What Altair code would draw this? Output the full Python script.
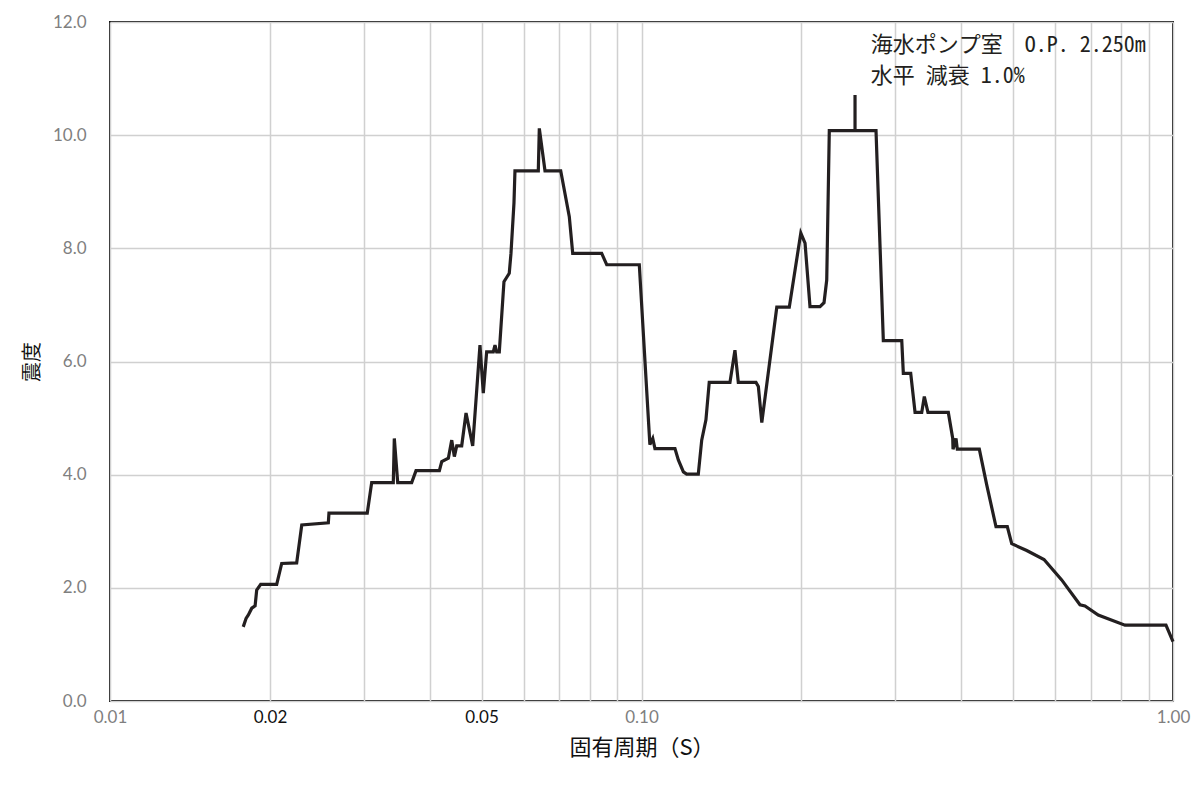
import altair as alt
import pandas as pd

# ---- data ----
periods = [
    0.01781, 0.01803, 0.01821, 0.01848, 0.01875, 0.01888, 0.01921, 0.02059, 0.02104, 0.02245,
    0.02295, 0.02575, 0.02582, 0.03048, 0.03107, 0.03412, 0.03427, 0.03478, 0.03695, 0.03765,
    0.04166, 0.04209, 0.04331, 0.04395, 0.04445, 0.04491, 0.04589, 0.04676, 0.04813, 0.04967,
    0.05039, 0.05113, 0.05262, 0.05301, 0.05340, 0.05401, 0.05511, 0.05639, 0.05681, 0.05755,
    0.05780, 0.06395, 0.06423, 0.06583, 0.07047, 0.07314, 0.07423, 0.08416, 0.08601, 0.09905,
    0.1037, 0.1050, 0.1060, 0.1156, 0.1173, 0.1199, 0.1216, 0.1279, 0.1298, 0.1322,
    0.1341, 0.1467, 0.1499, 0.1521, 0.1642, 0.1659, 0.1684, 0.1797, 0.1897, 0.1994,
    0.2031, 0.2075, 0.2167, 0.2205, 0.2231, 0.2256, 0.2522, 0.2522, 0.2522, 0.2762,
    0.2851, 0.3088, 0.3109, 0.3210, 0.3271, 0.3367, 0.3405, 0.3459, 0.3778, 0.3851,
    0.3856, 0.3906, 0.3928, 0.4321, 0.4462, 0.4645, 0.4878, 0.4972, 0.5306, 0.5719,
    0.6174, 0.6683, 0.6830, 0.7233, 0.8122, 0.9700, 1.0,
]
shindo = [
    1.31, 1.46, 1.52, 1.64, 1.68, 1.96, 2.06, 2.06, 2.43, 2.44,
    3.11, 3.15, 3.32, 3.32, 3.86, 3.86, 4.64, 3.86, 3.86, 4.07,
    4.07, 4.23, 4.29, 4.61, 4.32, 4.51, 4.51, 5.09, 4.51, 6.29,
    5.44, 6.17, 6.17, 6.29, 6.17, 6.17, 7.41, 7.56, 7.91, 8.80,
    9.37, 9.37, 10.12, 9.37, 9.37, 8.56, 7.91, 7.91, 7.71, 7.71,
    4.53, 4.64, 4.46, 4.46, 4.26, 4.05, 4.01, 4.01, 4.61, 4.97,
    5.63, 5.63, 6.20, 5.63, 5.63, 5.56, 4.92, 6.96, 6.96, 8.27,
    8.09, 6.97, 6.97, 7.04, 7.44, 10.08, 10.08, 10.71, 10.08, 10.08,
    6.37, 6.37, 5.79, 5.79, 5.10, 5.10, 5.38, 5.10, 5.10, 4.64,
    4.45, 4.64, 4.45, 4.45, 3.82, 3.08, 3.08, 2.78, 2.66, 2.50,
    2.14, 1.70, 1.68, 1.52, 1.34, 1.34, 1.05,
]

x_grid_values = [0.01, 0.02, 0.03, 0.04, 0.05, 0.06, 0.07, 0.08, 0.09,
                 0.1, 0.2, 0.3, 0.4, 0.5, 0.6, 0.7, 0.8, 0.9, 1.0]
x_labelled = [0.01, 0.02, 0.05, 0.1, 1.0]
x_dark_labels = [0.02, 0.05]
y_tick_values = [0, 2, 4, 6, 8, 10, 12]

note_lines = ["海水ポンプ室　O.P. 2.250m", "水平 減衰 1.0%"]
note_x = [0.2700, 0.2700]
note_y = [11.6, 11.05]

x_title = "固有周期（S）"
y_title = "震度"

# ---- build ----
df = pd.DataFrame({"period": periods, "shindo": shindo, "i": range(len(periods))})
notes = pd.DataFrame({"text": note_lines, "x": note_x, "y": note_y})

label_test = " || ".join(f"datum.value == {v}" for v in x_labelled)
dark_test = " || ".join(f"datum.value == {v}" for v in x_dark_labels)

x_scale = alt.Scale(type="log", domain=[0.01, 1.0], nice=False)
y_scale = alt.Scale(domain=[0, 12], nice=False)

x_axis = alt.Axis(
    values=x_grid_values,
    labelExpr=f"({label_test}) ? format(datum.value, '.2f') : ''",
    labelColor=alt.condition(dark_test, alt.value("#111111"), alt.value("#7f7f7f")),
    grid=True, gridColor="#d0d0d0", gridWidth=1.5,
    ticks=False, domain=False,
    labelFont="Lato", labelFontSize=17, labelPadding=8,
    labelFlush=False, labelOverlap=False,
    title=x_title, titleFont="Noto Sans CJK JP", titleFontSize=22,
    titleFontWeight="normal", titleColor="#111111", titlePadding=12,
)
y_axis = alt.Axis(
    values=y_tick_values, format=".1f",
    grid=True, gridColor="#d0d0d0", gridWidth=1.5,
    ticks=False, domain=False,
    labelFont="Lato", labelFontSize=17, labelColor="#7f7f7f", labelPadding=24,
    title=y_title, titleFont="Noto Sans CJK JP", titleFontSize=20,
    titleFontWeight="normal", titleColor="#111111", titlePadding=10,
)

line = alt.Chart(df).mark_line(color="#231f20", strokeWidth=3.2, strokeJoin="miter").encode(
    x=alt.X("period:Q", scale=x_scale, axis=x_axis),
    y=alt.Y("shindo:Q", scale=y_scale, axis=y_axis),
    order="i:Q",
)

text = alt.Chart(notes).mark_text(
    align="left", baseline="middle",
    font="Noto Sans Mono CJK JP, Noto Sans CJK JP", fontSize=22, color="#231f20",
).encode(
    x=alt.X("x:Q", scale=x_scale),
    y=alt.Y("y:Q", scale=y_scale),
    text="text:N",
)

chart = alt.layer(line, text).properties(
    width=1063, height=679,
    background="white",
    autosize=alt.AutoSizeParams(type="none"),
    padding={"left": 110, "top": 22, "right": 24, "bottom": 84},
).configure_view(stroke="#111111", strokeWidth=2)

chart.save("out.html", embed_options={"renderer": "svg", "actions": False})
